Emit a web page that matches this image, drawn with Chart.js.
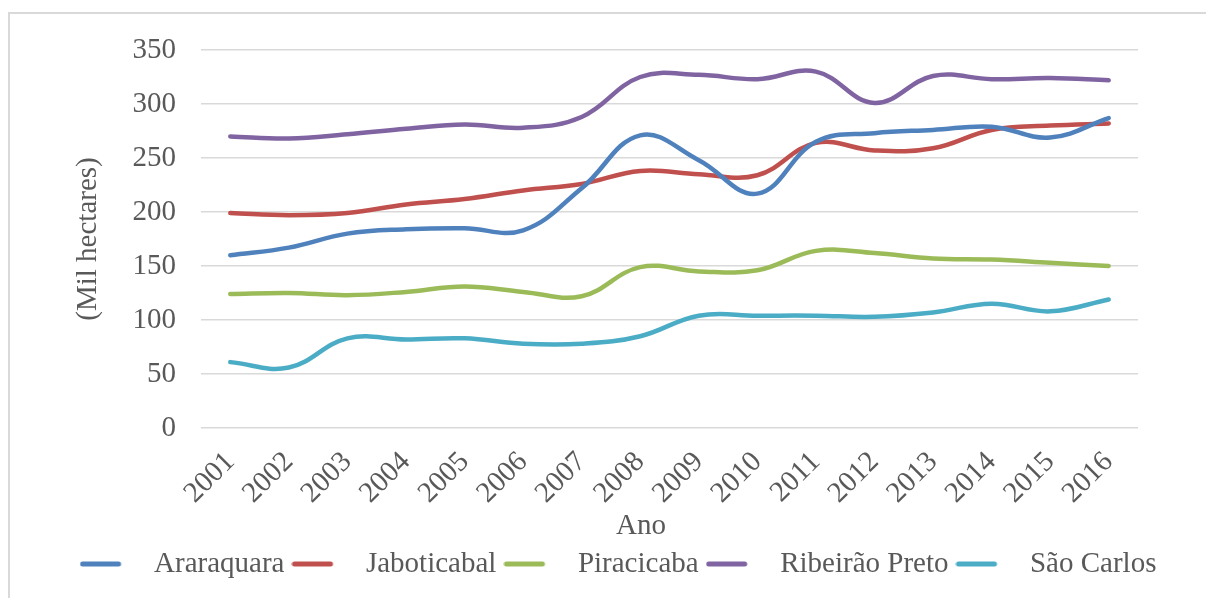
<!DOCTYPE html>
<html>
<head>
<meta charset="utf-8">
<script src="https://cdn.jsdelivr.net/npm/chart.js@4.4.1/dist/chart.umd.min.js"></script>
<style>
  html, body { margin: 0; padding: 0; background: #fff; overflow: hidden; }
  #frame { position: absolute; left: 8px; top: 12px; width: 1240px; height: 640px; border: 2px solid #d9d9d9; box-sizing: border-box; }
  #chart { position: absolute; left: 0; top: 0; }
</style>
</head>
<body>
<div id="frame"></div>
<canvas id="chart" width="1236" height="598"></canvas>
<script>
const FONT = 'Liberation Serif, Times New Roman, serif'
const TEXT_COLOR = '#595959'
const FONT_SIZE = 29

const years = ['2001', '2002', '2003', '2004', '2005', '2006', '2007', '2008',
               '2009', '2010', '2011', '2012', '2013', '2014', '2015', '2016']

const araraquara    = [160, 167, 180, 184, 185, 183, 222, 271, 248, 217, 265, 273, 276, 279, 269, 287]
const jaboticabal   = [199, 197, 199, 207, 212, 220, 226, 238, 235, 234, 264, 257, 259, 276, 280, 282]
const piracicaba    = [124, 125, 123, 126, 131, 126, 122, 149, 145, 146, 164, 162, 157, 156, 153, 150]
const ribeiraoPreto = [270, 268, 272, 277, 281, 278, 288, 325, 327, 323, 330, 301, 326, 323, 324, 322]
const saoCarlos     = [61, 56, 83, 82, 83, 78, 78, 85, 104, 104, 104, 103, 107, 115, 108, 119]

const seriesNames  = ['Araraquara', 'Jaboticabal', 'Piracicaba', 'Ribeirão Preto', 'São Carlos']
const seriesValues = [araraquara, jaboticabal, piracicaba, ribeiraoPreto, saoCarlos]
const seriesColors = ['#4f81bd', '#c0504d', '#9bbb59', '#8064a2', '#4bacc6']

const yTicks = [0, 50, 100, 150, 200, 250, 300, 350]

// legend marker: a short thick line with empty room after it for the gap to the text
function lineMarker(color) {
    const c = document.createElement('canvas')
    c.width = 60
    c.height = 8
    const g = c.getContext('2d')
    g.strokeStyle = color
    g.lineWidth = 5
    g.lineCap = 'round'
    g.beginPath()
    g.moveTo(3, 4)
    g.lineTo(39, 4)
    g.stroke()
    return c
}

// axis titles, placed by hand
const axisTitles = {
    id: 'axisTitles',
    afterDraw(chart) {
        const ctx = chart.ctx
        ctx.save()
        ctx.fillStyle = TEXT_COLOR
        ctx.font = FONT_SIZE + 'px ' + FONT
        ctx.textAlign = 'center'
        ctx.textBaseline = 'middle'
        ctx.fillText('Ano', 641, 526)
        ctx.translate(88, 239)
        ctx.rotate(-Math.PI / 2)
        ctx.fillText('(Mil hectares)', 0, 0)
        ctx.restore()
    }
}

const datasets = seriesNames.map((name, i) => ({
    label: name,
    data: seriesValues[i],
    borderColor: seriesColors[i],
    backgroundColor: seriesColors[i],
    borderWidth: 4.5,
    borderCapStyle: 'round',
    tension: 0.4,
    pointRadius: 0,
    pointHoverRadius: 0,
    pointStyle: lineMarker(seriesColors[i])
}))

new Chart(document.getElementById('chart'), {
    type: 'line',
    data: { labels: years, datasets: datasets },
    options: {
        responsive: false,
        animation: false,
        layout: { padding: { top: 50, left: 0, right: 0, bottom: 9.5 } },
        scales: {
            x: {
                offset: true,
                grid: { display: false },
                border: { display: false },
                ticks: {
                    color: TEXT_COLOR,
                    font: { family: FONT, size: FONT_SIZE },
                    minRotation: 45,
                    maxRotation: 45,
                    padding: 9
                },
                afterFit: s => { s.height = 114.5 }
            },
            y: {
                min: 0,
                max: 350,
                afterBuildTicks: s => { s.ticks = yTicks.map(v => ({ value: v })) },
                grid: { color: '#d9d9d9', lineWidth: 1.5, drawTicks: false },
                border: { display: false },
                ticks: {
                    color: TEXT_COLOR,
                    font: { family: FONT, size: FONT_SIZE },
                    padding: 25
                },
                afterFit: s => { s.width = 201 }
            },
            // empty right-hand axis, only keeps room on the right of the plot
            yRight: {
                position: 'right',
                grid: { display: false },
                border: { display: false },
                ticks: { display: false },
                afterFit: s => { s.width = 98 }
            }
        },
        plugins: {
            legend: {
                position: 'bottom',
                labels: {
                    usePointStyle: true,
                    pointStyleWidth: 60,
                    padding: 7,
                    color: TEXT_COLOR,
                    font: { family: FONT, size: FONT_SIZE }
                }
            },
            tooltip: { enabled: false }
        }
    },
    plugins: [axisTitles]
});
</script>
</body>
</html>
